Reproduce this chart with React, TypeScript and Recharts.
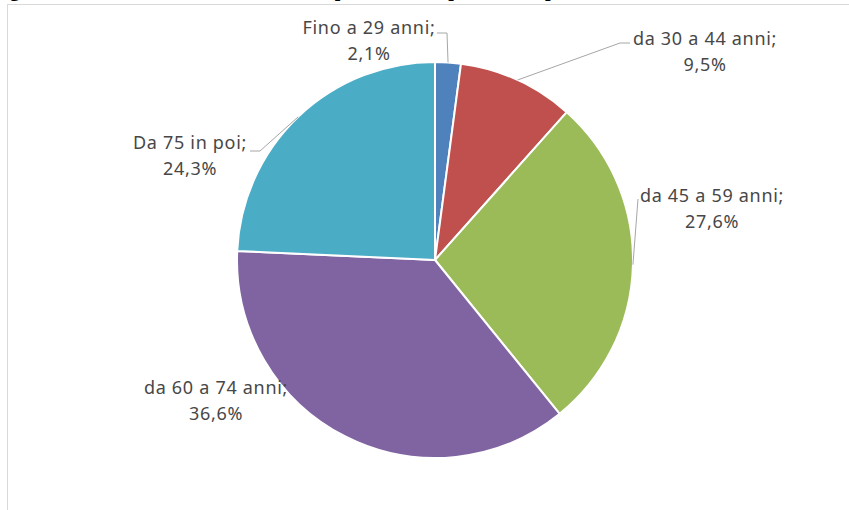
import React from "react";
import { PieChart, Pie, Cell } from "recharts";

// classi di età del capo azienda
const categories = ["Fino a 29 anni", "da 30 a 44 anni", "da 45 a 59 anni", "da 60 a 74 anni", "Da 75 in poi"];
const shares = [2.1, 9.5, 27.6, 36.6, 24.3];
const colors = ["#4F81BD", "#C0504D", "#9BBB59", "#8064A2", "#4BACC6"];

// posizione etichette rispetto al centro: [dx testo, dy baseline, gomito, fine linea]
const labelLayout = [
  { dx: -66, dy: -226, elbow: [12, -227], end: [2, -227] },
  { dx: 270, dy: -215, elbow: [185, -217], end: [195, -217] },
  { dx: 277, dy: -58, elbow: [203, -61], end: [203, -61] },
  { dx: -219, dy: 134, elbow: null, end: null },
  { dx: -245, dy: -111, elbow: [-175, -109], end: [-185, -109] },
];

const data = categories.map((name, i) => ({ name, value: shares[i] }));

const RAD = Math.PI / 180;

const renderLabel = (props: any) => {
  const { cx, cy, midAngle, outerRadius, index } = props;
  const lay = labelLayout[index];
  const tx = cx + lay.dx;
  const ty = cy + lay.dy;
  const sx = cx + outerRadius * Math.cos(-midAngle * RAD);
  const sy = cy + outerRadius * Math.sin(-midAngle * RAD);
  const pct = shares[index].toFixed(1).replace(".", ",") + "%";
  return (
    <g>
      {lay.elbow && lay.end && (
        <polyline
          points={`${sx},${sy} ${cx + lay.elbow[0]},${cy + lay.elbow[1]} ${cx + lay.end[0]},${cy + lay.end[1]}`}
          fill="none"
          stroke="#a6a6a6"
          strokeWidth={1}
        />
      )}
      <text
        x={tx}
        y={ty}
        textAnchor="middle"
        fill="#474747"
        fontSize={18}
        letterSpacing={0.7}
        fontFamily="'Noto Sans', sans-serif"
      >
        <tspan x={tx}>{categories[index] + ";"}</tspan>
        <tspan x={tx} dy={26}>{pct}</tspan>
      </text>
    </g>
  );
};

export default function App() {
  return (
    <div style={{ position: "fixed", left: 0, top: 0, width: 849, height: 510, overflow: "hidden", background: "#fff" }}>
      <div
        style={{
          position: "absolute",
          left: -8,
          top: -22,
          whiteSpace: "nowrap",
          fontFamily: "'Liberation Serif', serif",
          fontWeight: "bold",
          fontSize: 20,
          color: "#000",
        }}
      >
        Figura 6.7 – Distribuzione delle aziende per età del capo azienda per classe di età. Veneto
      </div>
      <div
        style={{
          position: "absolute",
          left: 7,
          top: 4,
          width: 900,
          height: 600,
          border: "1px solid #d9d9d9",
        }}
      />
      <div style={{ position: "absolute", left: 0, top: 0 }}>
        <PieChart width={849} height={510}>
          <Pie
            data={data}
            dataKey="value"
            nameKey="name"
            cx={430}
            cy={255}
            outerRadius={198}
            startAngle={90}
            endAngle={-270}
            stroke="#fff"
            strokeWidth={2}
            labelLine={false}
            label={renderLabel}
            isAnimationActive={false}
          >
            {data.map((d, i) => (
              <Cell key={d.name} fill={colors[i]} />
            ))}
          </Pie>
        </PieChart>
      </div>
    </div>
  );
}
